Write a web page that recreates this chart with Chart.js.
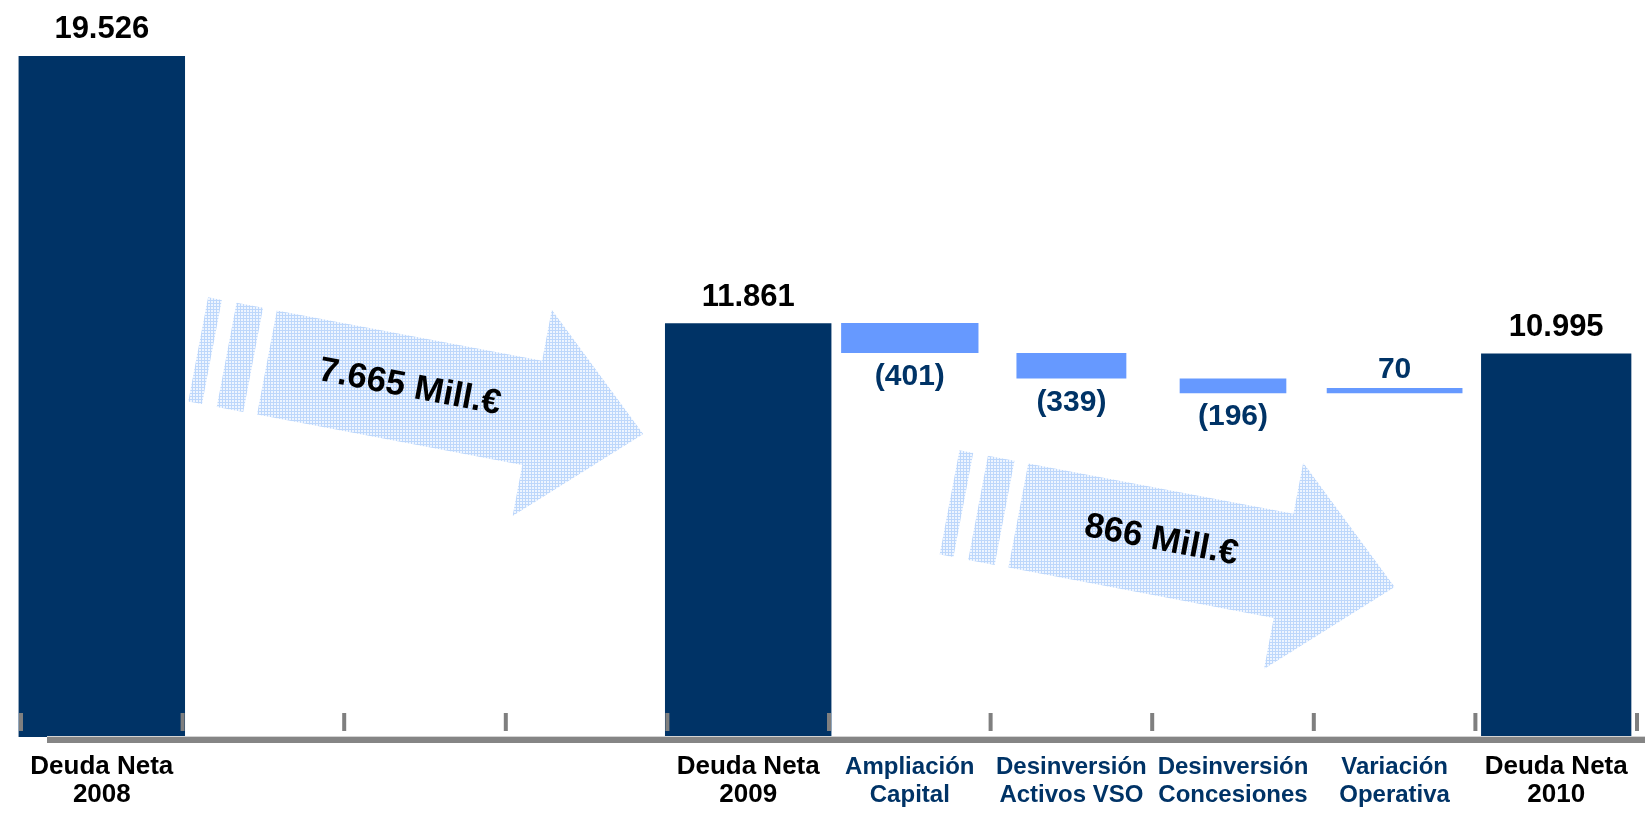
<!DOCTYPE html>
<html>
<head>
<meta charset="utf-8">
<script src="https://cdn.jsdelivr.net/npm/chart.js@4.4.1/dist/chart.umd.min.js"></script>
<style>
  html, body { margin: 0; padding: 0; background: #fff; }
  #wrap { position: relative; width: 1645px; height: 822px; }
</style>
</head>
<body>
<div id="wrap"><canvas id="debtChart"></canvas></div>
<script>
const categories = [
  ['Deuda Neta', '2008'], '', '', '',
  ['Deuda Neta', '2009'],
  ['Ampliación', 'Capital'],
  ['Desinversión', 'Activos VSO'],
  ['Desinversión', 'Concesiones'],
  ['Variación', 'Operativa'],
  ['Deuda Neta', '2010']
];
const netDebt = [19526, null, null, null, 11861, null, null, null, null, 10995];
const movements = [null, null, null, null, null, -401, -339, -196, 70, null];

// bar width as a share of its category slot
const barWidths = [1.03, 0, 0, 0, 1.03, 0.85, 0.68, 0.66, 0.84, 0.93];

const NAVY = '#003366';
const STEP = '#6699ff';
const FONT = "'Liberation Sans', Arial, sans-serif";

const fmt = (v) => String(Math.abs(v)).replace(/\B(?=(\d{3})+(?!\d))/g, '.');

// floating bars for the movements, chained from the previous total
const steps = [];
let running = null;
categories.forEach((c, i) => {
  if (netDebt[i] != null) {
    running = netDebt[i];
    steps.push(null);
  } else if (movements[i] != null) {
    steps.push([running, running + movements[i]]);
    running += movements[i];
  } else {
    steps.push(null);
  }
});

// one dataset per bar so each can keep its own width
const datasets = [];
categories.forEach((c, i) => {
  const only = (v) => categories.map((_, j) => (j === i ? v : null));
  const common = { barPercentage: barWidths[i], categoryPercentage: 1, grouped: false, borderWidth: 0, clip: false };
  if (netDebt[i] != null) {
    datasets.push({ ...common, kind: 'total', data: only(netDebt[i]), yAxisID: 'y', backgroundColor: NAVY });
  } else if (steps[i]) {
    datasets.push({ ...common, kind: 'step', value: movements[i], data: only(steps[i]), yAxisID: 'y2', backgroundColor: STEP });
  }
});

let hatch = null;
function hatchPattern(ctx) {
  if (hatch) return hatch;
  const c = document.createElement('canvas');
  c.width = 3; c.height = 3;
  const g = c.getContext('2d');
  g.fillStyle = '#eef5ff'; g.fillRect(0, 0, 3, 3);
  g.fillStyle = '#bdd7fb'; g.fillRect(0, 0, 3, 1); g.fillRect(0, 0, 1, 3);
  hatch = ctx.createPattern(c, 'repeat');
  return hatch;
}

function drawArrow(ctx, tipX, tipY, text) {
  const a = Math.atan(0.19), ca = Math.cos(a), sa = Math.sin(a);
  const pt = (u, v) => [tipX + u * ca - v * sa, tipY + u * sa + v * ca];
  const shapes = [
    [[-383, -53], [-113, -53], [-113, -105], [0, 0], [-113, 105], [-113, 53], [-383, 53]],
    [[-424, -53], [-397, -53], [-397, 53], [-424, 53]],
    [[-453, -53], [-439, -53], [-439, 53], [-453, 53]]
  ];
  ctx.save();
  ctx.fillStyle = hatchPattern(ctx);
  shapes.forEach((s) => {
    ctx.beginPath();
    s.forEach(([u, v], k) => {
      const [px, py] = pt(u, v);
      if (k === 0) ctx.moveTo(px, py); else ctx.lineTo(px, py);
    });
    ctx.closePath();
    ctx.fill();
  });
  const [tx, ty] = pt(-238, -2);
  ctx.translate(tx, ty);
  ctx.rotate(a);
  ctx.font = `bold 35px ${FONT}`;
  ctx.fillStyle = '#000';
  ctx.textAlign = 'center';
  ctx.textBaseline = 'middle';
  ctx.fillText(text, 0, 0);
  ctx.restore();
}

const decor = {
  id: 'decor',
  beforeDatasetsDraw(chart) {
    const ctx = chart.ctx;
    const x = chart.scales.x;
    drawArrow(ctx, x.getPixelForValue(4) - 105, 434, `${fmt(netDebt[0] - netDebt[4])} Mill.€`);
    drawArrow(ctx, x.getPixelForValue(8), 587, `${fmt(netDebt[4] - netDebt[9])} Mill.€`);
  },
  afterDatasetsDraw(chart) {
    const { ctx, chartArea } = chart;
    const x = chart.scales.x;
    const b = chartArea.bottom;
    ctx.save();
    // base line
    ctx.fillStyle = '#d4d4d4';
    ctx.fillRect(chartArea.left + 26, b - 1, chart.width, 1);
    ctx.fillStyle = '#858585';
    ctx.fillRect(chartArea.left + 26, b, chart.width, 6);
    // small marks at the slot boundaries
    const slot = x.getPixelForValue(1) - x.getPixelForValue(0);
    ctx.fillStyle = '#7f7f7f';
    for (let i = 0; i <= categories.length; i++) {
      const px = x.getPixelForValue(0) - slot / 2 + i * slot;
      ctx.fillRect(px - 2, b - 24, 4, 18);
    }
    // value labels
    ctx.textAlign = 'center';
    ctx.textBaseline = 'middle';
    chart.data.datasets.forEach((ds, di) => {
      const meta = chart.getDatasetMeta(di);
      meta.data.forEach((el, i) => {
        const raw = ds.data[i];
        if (raw == null) return;
        if (ds.kind === 'total') {
          ctx.font = `bold 31px ${FONT}`;
          ctx.fillStyle = '#000';
          ctx.fillText(fmt(raw), el.x, el.y - 26);
        } else {
          const top = Math.min(el.y, el.base), bot = Math.max(el.y, el.base);
          ctx.font = `bold 30px ${FONT}`;
          ctx.fillStyle = NAVY;
          if (ds.value < 0) ctx.fillText(`(${fmt(ds.value)})`, el.x, bot + 24);
          else ctx.fillText(fmt(ds.value), el.x, top - 18);
        }
      });
    });
    ctx.restore();
  }
};

const isTotal = (i) => netDebt[i] != null;

new Chart(document.getElementById('debtChart'), {
  type: 'bar',
  data: { labels: categories, datasets },
  options: {
    responsive: true,
    maintainAspectRatio: false,
    animation: false,
    layout: { padding: { left: 21, right: 8, top: 0, bottom: 0 } },
    plugins: { legend: { display: false }, tooltip: { enabled: false } },
    scales: {
      x: {
        grid: { display: false, drawTicks: false },
        border: { display: false },
        afterFit(scale) { scale.height = 85; },
        ticks: {
          autoSkip: false,
          maxRotation: 0,
          padding: 16,
          color: (c) => (isTotal(c.index) ? '#000' : NAVY),
          font: (c) => ({ family: FONT, weight: 'bold', size: isTotal(c.index) ? 26 : 24, lineHeight: '28px' })
        }
      },
      y: { display: false, min: 0, max: 21130 },
      y2: { display: false, min: 6341, max: 16168 }
    }
  },
  plugins: [decor]
});
</script>
</body>
</html>
